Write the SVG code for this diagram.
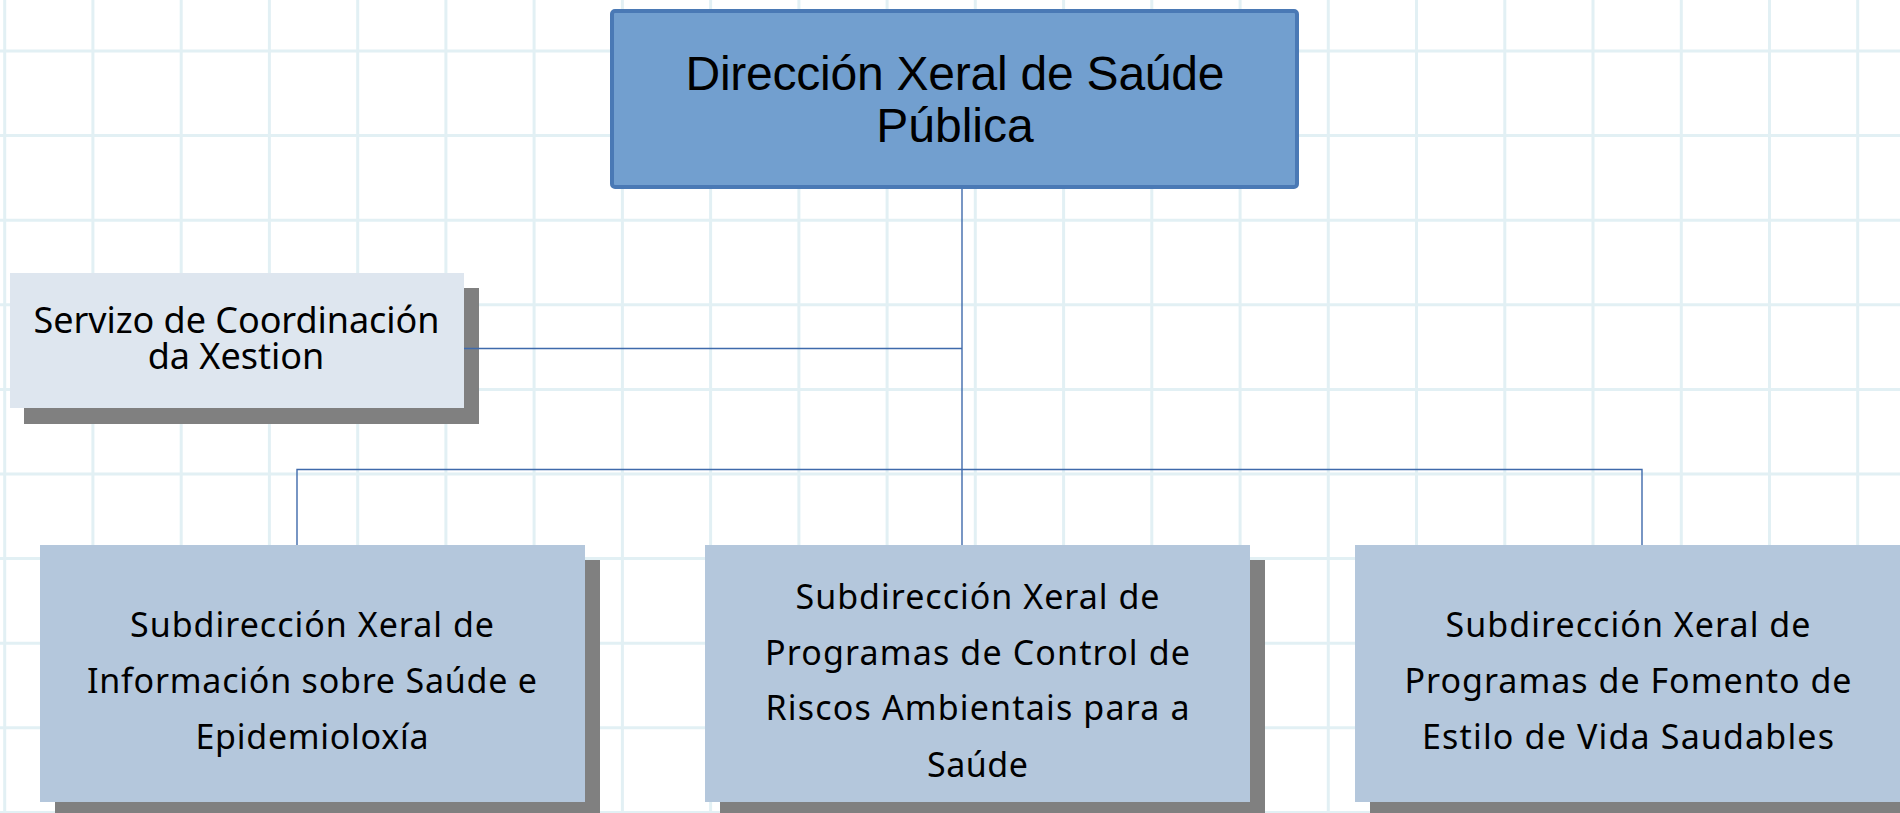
<svg xmlns="http://www.w3.org/2000/svg" width="1900" height="813" viewBox="0 0 1900 813">
<style>
.grid line{stroke:#e2f0f4;stroke-width:3}
.shadow{fill:#808080}
.top{fill:#729fcf;stroke:#4a79b5;stroke-width:4}
.side{fill:#dee6ef}
.sub{fill:#b4c7dc}
.t1{font-family:"Liberation Sans",Arial,sans-serif;font-size:48px;fill:#000;text-anchor:middle}
.t2{font-family:"Noto Sans","Open Sans",sans-serif;font-size:36px;fill:#000;text-anchor:middle}
.t3{font-family:"Noto Sans","Open Sans",sans-serif;font-size:34px;fill:#000;text-anchor:middle}
.conn{stroke:#3f6aab;stroke-width:1.4;fill:none}
</style>
<rect width="1900" height="813" fill="#ffffff"/>
<g class="grid">
<line x1="4.7" y1="0" x2="4.7" y2="813"/>
<line x1="92.9" y1="0" x2="92.9" y2="813"/>
<line x1="181.2" y1="0" x2="181.2" y2="813"/>
<line x1="269.4" y1="0" x2="269.4" y2="813"/>
<line x1="357.7" y1="0" x2="357.7" y2="813"/>
<line x1="445.9" y1="0" x2="445.9" y2="813"/>
<line x1="534.1" y1="0" x2="534.1" y2="813"/>
<line x1="622.4" y1="0" x2="622.4" y2="813"/>
<line x1="710.6" y1="0" x2="710.6" y2="813"/>
<line x1="798.9" y1="0" x2="798.9" y2="813"/>
<line x1="887.1" y1="0" x2="887.1" y2="813"/>
<line x1="975.3" y1="0" x2="975.3" y2="813"/>
<line x1="1063.6" y1="0" x2="1063.6" y2="813"/>
<line x1="1151.8" y1="0" x2="1151.8" y2="813"/>
<line x1="1240.1" y1="0" x2="1240.1" y2="813"/>
<line x1="1328.3" y1="0" x2="1328.3" y2="813"/>
<line x1="1416.5" y1="0" x2="1416.5" y2="813"/>
<line x1="1504.8" y1="0" x2="1504.8" y2="813"/>
<line x1="1593.0" y1="0" x2="1593.0" y2="813"/>
<line x1="1681.3" y1="0" x2="1681.3" y2="813"/>
<line x1="1769.5" y1="0" x2="1769.5" y2="813"/>
<line x1="1857.7" y1="0" x2="1857.7" y2="813"/>
<line x1="0" y1="51" x2="1900" y2="51"/>
<line x1="0" y1="135.6" x2="1900" y2="135.6"/>
<line x1="0" y1="220.2" x2="1900" y2="220.2"/>
<line x1="0" y1="304.8" x2="1900" y2="304.8"/>
<line x1="0" y1="389.4" x2="1900" y2="389.4"/>
<line x1="0" y1="474" x2="1900" y2="474"/>
<line x1="0" y1="558.6" x2="1900" y2="558.6"/>
<line x1="0" y1="643.2" x2="1900" y2="643.2"/>
<line x1="0" y1="727.8" x2="1900" y2="727.8"/>
<line x1="0" y1="812.4" x2="1900" y2="812.4"/>
</g>
<g id="node-dxsp">
<rect class="top" x="612" y="11" width="685" height="176" rx="3"/>
<text class="t1" x="955" y="89.5" textLength="539" lengthAdjust="spacing">Dirección Xeral de Saúde</text>
<text class="t1" x="955" y="142">Pública</text>
</g>
<g id="node-servizo">
<rect class="shadow" x="24" y="288" width="455" height="136"/>
<rect class="side" x="10" y="273" width="454" height="135"/>
<text class="t2" x="236.5" y="332.5" textLength="406" lengthAdjust="spacing">Servizo de Coordinación</text>
<text class="t2" x="236" y="368.5">da Xestion</text>
</g>
<g id="node-sub1">
<rect class="shadow" x="55" y="560" width="545" height="257"/>
<rect class="sub" x="40" y="545" width="545" height="257"/>
<text class="t3" x="312" y="637" textLength="364" lengthAdjust="spacing">Subdirección Xeral de</text>
<text class="t3" x="312" y="693" textLength="450" lengthAdjust="spacing">Información sobre Saúde e</text>
<text class="t3" x="312" y="748.5" textLength="233" lengthAdjust="spacing">Epidemioloxía</text>
</g>
<g id="node-sub2">
<rect class="shadow" x="720" y="560" width="545" height="257"/>
<rect class="sub" x="705" y="545" width="545" height="257"/>
<text class="t3" x="977.5" y="608.5" textLength="364" lengthAdjust="spacing">Subdirección Xeral de</text>
<text class="t3" x="977.5" y="664.5" textLength="425" lengthAdjust="spacing">Programas de Control de</text>
<text class="t3" x="977.5" y="720" textLength="424" lengthAdjust="spacing">Riscos Ambientais para a</text>
<text class="t3" x="977.5" y="776.5" textLength="101" lengthAdjust="spacing">Saúde</text>
</g>
<g id="node-sub3">
<rect class="shadow" x="1370" y="560" width="545" height="257"/>
<rect class="sub" x="1355" y="545" width="545" height="257"/>
<text class="t3" x="1628" y="637" textLength="365" lengthAdjust="spacing">Subdirección Xeral de</text>
<text class="t3" x="1628" y="693" textLength="447" lengthAdjust="spacing">Programas de Fomento de</text>
<text class="t3" x="1628" y="748.5" textLength="412" lengthAdjust="spacing">Estilo de Vida Saudables</text>
</g>
<g id="connectors">
<line class="conn" x1="962" y1="189" x2="962" y2="545"/>
<line class="conn" x1="464" y1="348.5" x2="962" y2="348.5"/>
<polyline class="conn" points="297,545 297,469.5 1642,469.5 1642,545"/>
</g>
</svg>
